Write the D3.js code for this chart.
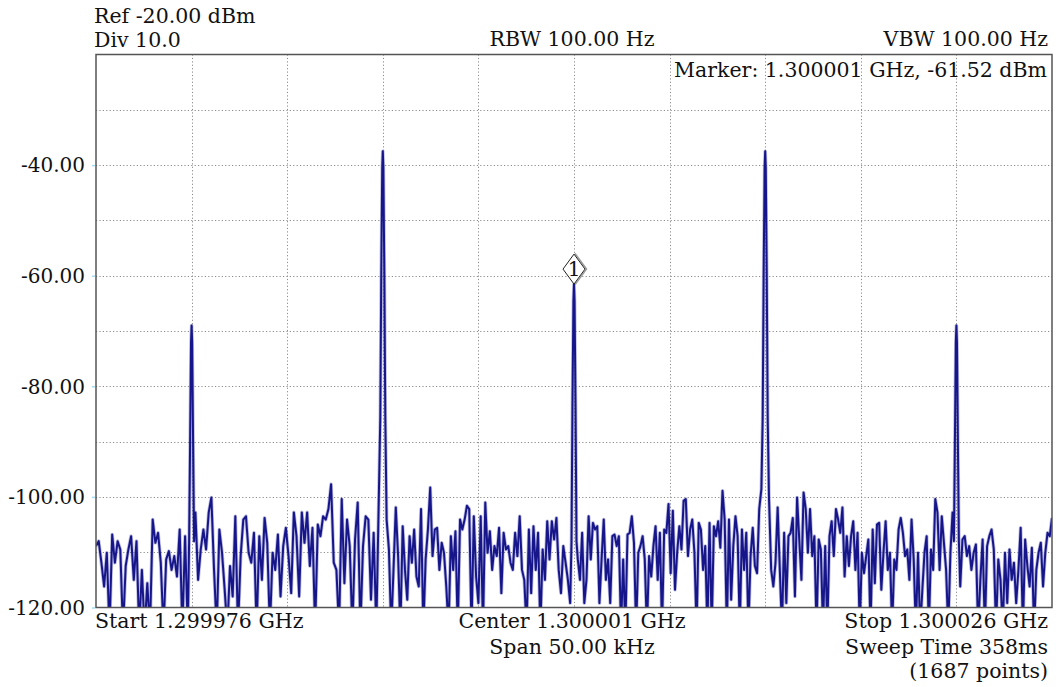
<!DOCTYPE html>
<html>
<head>
<meta charset="utf-8">
<script src="https://cdn.jsdelivr.net/npm/d3@7"></script>
<style>
  html, body { margin: 0; padding: 0; background: #fff; }
  svg { display: block; }
  text { font-family: "DejaVu Serif", "Liberation Serif", serif; fill: #111; }
</style>
</head>
<body>
<svg id="chart" width="1056" height="687"></svg>
<script>
// Sweep settings
const startGHz = 1.299976;
const stopGHz = 1.300026;
const refDbm = -20;
const divDb = 10;
const bottomDbm = -120;

// Header / footer annotation text
const headerLeft = ["Ref -20.00 dBm", "Div 10.0"];
const headerCenter = "RBW 100.00 Hz";
const headerRight = "VBW 100.00 Hz";
const markerText = "Marker: 1.300001 GHz, -61.52 dBm";
const footerLeft = "Start 1.299976 GHz";
const footerCenter = ["Center 1.300001 GHz", "Span 50.00 kHz"];
const footerRight = ["Stop 1.300026 GHz", "Sweep Time 358ms", "(1687 points)"];

// Y tick labels
const yTickValues = [-40, -60, -80, -100, -120];

// Tones in the sweep (GHz, dBm)
const toneGHz = [1.299981, 1.299991, 1.300001, 1.300011, 1.300021];
const toneDbm = [-69.0, -37.5, -61.52, -37.5, -69.0];
// Spectral shape of each tone around its centre: kHz offset and level below the peak
const toneShapeKHz = [-0.13, -0.08, -0.03, 0, 0.03, 0.08, 0.13];
const toneShapeDropDb = [48, 22, 3, 0, 3, 22, 48];
const toneSkirtFloorDbm = -108;

// Marker 1 sits on the centre tone
const markerIndex = 2;

// Noise floor readings (dBm) between the tones; values under -120 fall off the screen
const noiseA = [-108.9,-108.0,-111.9,-116.2,-110.1,-124,-106.8,-111.9,-108.0,-109.5,-124,-112.5,-109.5,-107.1,-115.0,-108.0,-124,-113.2,-124,-115.6,-124,-104.1,-108.3,-106.5,-111.9,-124,-111.3,-109.8,-113.2,-110.7,-114.4,-105.9,-124,-107.1,-124];
const noiseB = [-102.8,-115.0,-109.5,-105.9,-109.5,-102.8,-100.1,-113.2,-124,-105.9,-110.1,-116.8,-124,-112.5,-118.0,-103.5,-124,-110.7,-104.1,-103.5,-110.1,-111.9,-106.5,-124,-107.1,-115.0,-103.8,-108.3,-124,-110.1,-113.2,-106.8,-118.0,-108.9,-105.6,-110.7,-117.4,-102.8,-107.1,-118.0,-102.8,-108.3,-102.8,-112.5,-105.6,-124,-105.0,-107.1,-103.5,
  -104.1,-102.2,-97.7,-111.9,-113.2,-124,-100.4,-115.6,-104.1,-108.9,-124,-107.7,-101.0,-124,-108.9,-103.5,-104.1,-118.6,-106.5,-124,-98.6];
const noiseC = [-104.1,-109.5,-124,-113.2,-101.9,-110.7,-124,-105.3,-113.2,-118.6,-107.1,-111.9,-105.9,-114.4,-116.2,-102.2,-124,-111.3,-105.9,-98.3,-110.7,-105.9,-105.6,-113.2,-108.3,-110.1,-116.2,-124,-107.1,-113.2,-106.2,-124,-104.1,-105.9,-104.1,-101.6,-102.2,-124,-103.5,-114.4,-119.2,-103.5,-124,-101.0,-110.1,-106.2,-113.2,-108.9,-110.7,-105.6,-117.4,-106.5,-109.5,-108.9,-111.9,-113.2,-106.5,-110.7,-103.5,-113.2,-115.0,-124,-105.9,-117.4,-105.3,-113.2,-106.5,-124,-109.5,-115.0,-104.4,-111.3,-104.4,-107.7,-103.8,-113.2,-117.4,-108.9,-111.9,-115.0,-119.2];
const noiseD = [-111.3,-115.0,-106.5,-119.2,-115.0,-103.5,-111.3,-104.7,-105.9,-105.3,-119.2,-111.3,-104.1,-115.0,-111.3,-119.2,-107.1,-106.8,-108.9,-107.1,-124,-111.3,-124,-106.8,-106.5,-103.5,-108.3,-124,-110.1,-108.9,-107.1,-111.3,-124,-110.7,-114.4,-108.9,-105.3,-115.0,-106.5,-124,-105.9,-106.5,-101.3,-113.8,-102.5,-116.8,-110.1,-105.3,-109.5,-100.7,-100.4,-110.7,-105.9,-104.1,-110.1,-124,-104.7,-105.9,-113.2,-108.9,-124,-104.7,-124,-105.3,-107.1,-104.4,-109.2,-98.9,-104.1,-124,-104.1,-118.6,-108.9,-103.5,-107.1,-124,-105.9,-113.2,-106.5,-124,-110.7,-105.6,-112.5,-113.8,-102.2,-98.6];
const noiseE = [-100.4,-113.2,-116.2,-111.9,-101.9,-113.2,-124,-106.5,-119.2,-107.1,-106.5,-103.8,-118.0,-100.1,-107.7,-115.0,-99.2,-102.2,-110.1,
  -102.2,-110.7,-107.1,-124,-107.7,-109.5,-124,-108.9,-124,-107.1,-104.4,-110.7,-102.2,-104.1,-106.5,-101.9,-114.4,-107.1,-112.5,-107.1,-104.4,-113.2,-106.5,-124,-110.1,-113.8,-110.7,-107.7,-124,-105.9,-115.6,-105.0,-104.7,-116.8,-110.1,-104.4,-113.2,-110.1,-124,-111.3,-113.2,-105.9,-103.8,-106.5,-110.7,-109.5,-115.0,-104.1,-111.3,-124,-110.1,-124,-116.8,-110.1,-107.1,-124,-109.5,-113.2,-100.4,-102.8,-113.2,-103.5,-108.3,-113.2,-124,-110.1,-102.8];
const noiseF = [-116.2,-107.7,-107.1,-110.7,-108.9,-113.2,-110.1,-108.6,-124,-115.0,-107.7,-124,-108.9,-107.1,-105.9,-109.5,-124,-111.3,-115.0,-124,-110.1,-119.2,-109.5,-115.0,-111.9,-119.2,-113.2,-105.6,-124,-107.7,-112.5,-116.2,-109.2,-124,-113.2,-110.1,-108.3,-116.2,-110.1,-106.5,-107.1,-103.8];
const noiseSegments = [noiseA, noiseB, noiseC, noiseD, noiseE, noiseF];

const svg = d3.select("#chart");
const margin = { left: 96, right: 1052, top: 54.5, bottom: 607.5 };

const x = d3.scaleLinear().domain([startGHz, stopGHz]).range([margin.left, margin.right]);
const y = d3.scaleLinear().domain([bottomDbm, refDbm]).range([margin.bottom, margin.top]);
const kHz = 1e-6; // one kHz in GHz

// Grid: 10 divisions each way
const xGrid = d3.range(1, 10).map(i => startGHz + (stopGHz - startGHz) * i / 10);
const yGrid = d3.range(bottomDbm + divDb, refDbm, divDb);

const grid = svg.append("g").attr("stroke", "#8c8c8c").attr("stroke-width", 1)
  .attr("stroke-dasharray", "1.2,2.2");
grid.selectAll(".vg").data(xGrid).join("line")
  .attr("x1", d => Math.round(x(d)) + 0.5).attr("x2", d => Math.round(x(d)) + 0.5)
  .attr("y1", margin.top).attr("y2", margin.bottom);
grid.selectAll(".hg").data(yGrid).join("line")
  .attr("x1", margin.left).attr("x2", margin.right)
  .attr("y1", d => Math.round(y(d)) + 0.5).attr("y2", d => Math.round(y(d)) + 0.5);

// Build the trace: noise segments laid out between the tones, with each tone's shape inserted
const trace = [];
const bounds = [startGHz, ...toneGHz, stopGHz];
noiseSegments.forEach((seg, k) => {
  const a = k === 0 ? bounds[0] : bounds[k] + 0.2 * kHz;
  const b = k === noiseSegments.length - 1 ? bounds[k + 1] : bounds[k + 1] - 0.2 * kHz;
  const pos = d3.scaleLinear().domain([0, seg.length - 1]).range([a, b]);
  seg.forEach((v, i) => trace.push([pos(i), v]));
  if (k < toneGHz.length) {
    toneShapeKHz.forEach((off, j) => {
      trace.push([toneGHz[k] + off * kHz, Math.max(toneDbm[k] - toneShapeDropDb[j], toneSkirtFloorDbm)]);
    });
  }
});

svg.append("defs").append("clipPath").attr("id", "plotClip")
  .append("rect").attr("x", margin.left).attr("y", margin.top)
  .attr("width", margin.right - margin.left).attr("height", margin.bottom - margin.top);

const line = d3.line().x(d => x(d[0])).y(d => y(d[1]));
const traceG = svg.append("g").attr("clip-path", "url(#plotClip)");
traceG.append("path").datum(trace).attr("d", line)
  .attr("fill", "none").attr("stroke", "#5a5ab4").attr("stroke-opacity", 0.4)
  .attr("stroke-width", 3.6).attr("stroke-linejoin", "round");
traceG.append("path").datum(trace).attr("d", line)
  .attr("fill", "none").attr("stroke", "#16168a")
  .attr("stroke-width", 2).attr("stroke-linejoin", "round");

// Plot frame
svg.append("rect").attr("x", margin.left).attr("y", margin.top)
  .attr("width", margin.right - margin.left).attr("height", margin.bottom - margin.top)
  .attr("fill", "none").attr("stroke", "#555").attr("stroke-width", 1.5);

// Y axis labels
const yAxis = d3.axisLeft(y).tickValues(yTickValues).tickFormat(d => d.toFixed(2))
  .tickSize(3).tickPadding(7);
const yg = svg.append("g").attr("transform", `translate(${margin.left - 1},0)`).call(yAxis);
yg.select(".domain").remove();
yg.selectAll(".tick line").attr("stroke", "#a6dcef").attr("stroke-width", 1.5);
yg.selectAll(".tick text").style("font-family", "DejaVu Serif, serif")
  .style("font-size", "20px").attr("fill", "#111").attr("dy", "0.34em");

// Marker 1 diamond on the centre tone
const mx = x(toneGHz[markerIndex]);
const my = y(toneDbm[markerIndex]);
const diamond = (cx, cy) => `M${cx},${cy - 30} L${cx + 11},${cy - 15} L${cx},${cy} L${cx - 11},${cy - 15} Z`;
svg.append("path").attr("d", diamond(mx + 1.5, my)).attr("fill", "none")
  .attr("stroke", "#999").attr("stroke-width", 1.5);
svg.append("path").attr("d", diamond(mx, my)).attr("fill", "#fff")
  .attr("stroke", "#222").attr("stroke-width", 1);
svg.append("text").attr("x", mx).attr("y", my - 8).attr("text-anchor", "middle")
  .style("font-size", "20px").text(String(markerIndex - 1));

// Annotation text
const fs = "20.5px";
const addText = (t, tx, ty, anchor) => svg.append("text").attr("x", tx).attr("y", ty)
  .attr("text-anchor", anchor).style("font-size", fs).text(t);

addText(headerLeft[0], 94, 23, "start");
addText(headerLeft[1], 94, 47, "start");
addText(headerCenter, 572, 46, "middle");
addText(headerRight, 1048, 46, "end");
addText(markerText, 1047, 77, "end");
addText(footerLeft, 95, 628, "start");
addText(footerCenter[0], 572, 628, "middle");
addText(footerCenter[1], 572, 654, "middle");
addText(footerRight[0], 1048, 628, "end");
addText(footerRight[1], 1048, 654, "end");
addText(footerRight[2], 1048, 678, "end");
</script>
</body>
</html>
